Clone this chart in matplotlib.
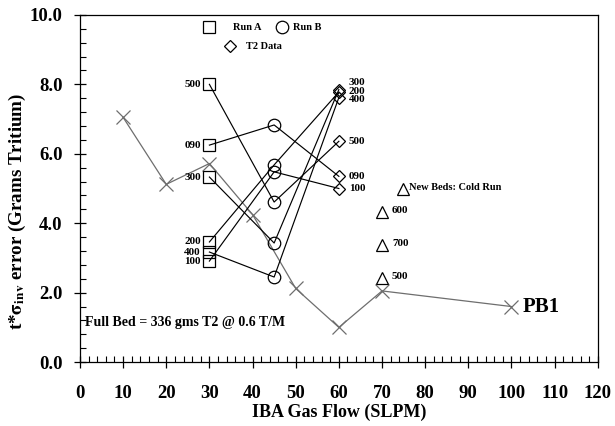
import matplotlib
matplotlib.use("Agg")
import matplotlib.pyplot as plt
from matplotlib.ticker import MultipleLocator, FormatStrFormatter

# ---- data ----
beds = ['500', '090', '300', '200', '400', '100']
run_a = [8.0, 6.25, 5.33, 3.46, 3.17, 2.91]
run_b = [4.61, 6.83, 3.43, 5.68, 2.45, 5.48]
t2_data = [6.36, 5.35, 7.85, 7.78, 7.62, 5.0]
flow_a, flow_b, flow_t2 = 30, 45, 60

cold_beds = ['600', '700', '500']
cold_err = [4.32, 3.37, 2.42]
cold_flow = 70

pb1_flow = [10, 20, 30, 40, 50, 60, 70, 100]
pb1_err = [7.05, 5.12, 5.72, 4.25, 2.12, 1.0, 2.05, 1.6]

xticks = list(range(0, 121, 10))
yticks = [0, 2, 4, 6, 8, 10]

plt.rcParams['font.family'] = ['Liberation Serif', 'DejaVu Serif']
plt.rcParams['font.weight'] = 'bold'
plt.rcParams['mathtext.fontset'] = 'stix'

fig = plt.figure(figsize=(6.15, 4.26), dpi=100)
ax = fig.add_axes([0.130, 0.150, 0.842, 0.815])

grey = '#6e6e6e'
ax.plot(pb1_flow, pb1_err, color=grey, lw=0.9, marker='x', ms=10, mew=0.9, zorder=2)
ax.text(pb1_flow[-1] + 2.5, pb1_err[-1], 'PB1', fontsize=15, fontweight='bold',
        va='center', ha='left')

for bed, a, b, t in zip(beds, run_a, run_b, t2_data):
    ax.plot([flow_a, flow_b, flow_t2], [a, b, t], color='black', lw=0.85, zorder=3)

ax.plot([flow_a] * len(run_a), run_a, ls='none', marker='s', ms=8, mfc='none',
        mec='black', mew=0.9, zorder=4)
ax.plot([flow_b] * len(run_b), run_b, ls='none', marker='o', ms=9, mfc='none',
        mec='black', mew=0.9, zorder=4)
ax.plot([flow_t2] * len(t2_data), t2_data, ls='none', marker='D', ms=6.5, mfc='none',
        mec='black', mew=0.9, zorder=4)
ax.plot([cold_flow] * len(cold_err), cold_err, ls='none', marker='^', ms=9, mfc='none',
        mec='black', mew=0.9, zorder=4)

lab_fs = 8
# run A labels (left of squares)
for bed, a in zip(beds, run_a):
    ax.text(flow_a - 2.0, a, bed, fontsize=lab_fs, fontweight='bold', ha='right', va='center')
# T2 labels (right of diamonds)
t2_label_shift = {'300': 0.2, '200': 0.02, '400': -0.05}
for bed, t in zip(beds, t2_data):
    ax.text(flow_t2 + 2.3, t + t2_label_shift.get(bed, 0.0), bed, fontsize=lab_fs,
            fontweight='bold', ha='left', va='center')
# cold run labels
for bed, c in zip(cold_beds, cold_err):
    ax.text(cold_flow + 2.3, c + 0.05, bed, fontsize=lab_fs, fontweight='bold',
            ha='left', va='center')

# in-plot legend
ax.plot([30], [9.65], marker='s', ms=8.5, mfc='none', mec='black', mew=0.9)
ax.text(35.5, 9.65, 'Run A', fontsize=7.5, fontweight='bold', va='center')
ax.plot([46.8], [9.65], marker='o', ms=9, mfc='none', mec='black', mew=0.9)
ax.text(49.3, 9.65, 'Run B', fontsize=7.5, fontweight='bold', va='center')
ax.plot([34.7], [9.1], marker='D', ms=6.5, mfc='none', mec='black', mew=0.9)
ax.text(38.5, 9.1, 'T2 Data', fontsize=7.5, fontweight='bold', va='center')
ax.plot([74.8], [5.0], marker='^', ms=9, mfc='none', mec='black', mew=0.9)
ax.text(76.2, 5.04, 'New Beds: Cold Run', fontsize=7.5, fontweight='bold', va='center')

ax.text(1.2, 1.13, 'Full Bed = 336 gms T2 @ 0.6 T/M', fontsize=10, fontweight='bold',
        va='center', ha='left')

ax.set_xlim(0, 120)
ax.set_ylim(0, 10)
ax.set_xticks(xticks)
ax.set_yticks(yticks)
ax.xaxis.set_minor_locator(MultipleLocator(2))
ax.yaxis.set_minor_locator(MultipleLocator(0.4))
ax.yaxis.set_major_formatter(FormatStrFormatter('%.1f'))
ax.tick_params(which='major', direction='inout', length=9, width=0.9, labelsize=13.5)
ax.tick_params(which='minor', direction='in', length=4, width=0.8)
ax.tick_params(axis='x', which='major', pad=12)
ax.tick_params(axis='y', which='major', pad=8)
for lbl in ax.get_xticklabels() + ax.get_yticklabels():
    lbl.set_fontweight('bold')
for sp in ax.spines.values():
    sp.set_linewidth(0.9)

ax.set_xlabel('IBA Gas Flow (SLPM)', fontsize=13, fontweight='bold', labelpad=1)
ax.set_ylabel(r't*$\mathbf{\sigma}_{\mathbf{inv}}$ error (Grams Tritium)', fontsize=13.7,
              fontweight='bold')
ax.yaxis.set_label_coords(-0.10, 0.435)

fig.savefig('out.png', dpi=100)
